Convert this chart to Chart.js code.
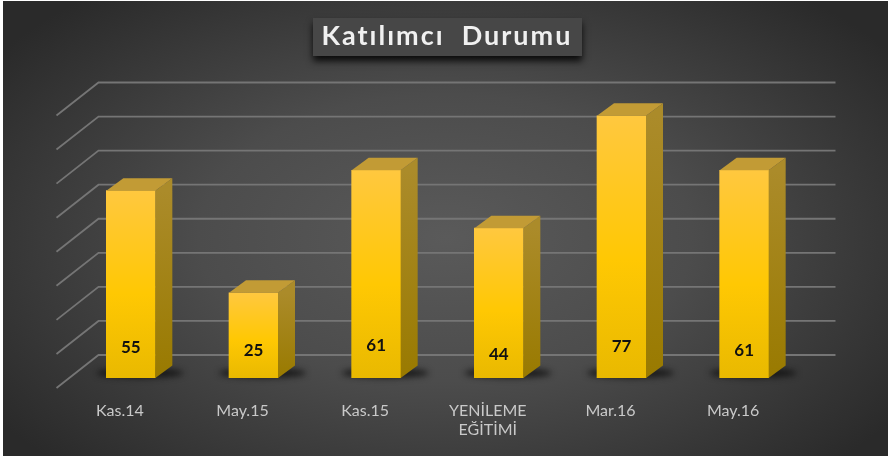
<!DOCTYPE html>
<html>
<head>
<meta charset="utf-8">
<style>
	html, body { margin: 0; background: #fff; overflow: hidden; }
	#bg {
		position: absolute; left: 3px; top: 1px; width: 885px; height: 455px;
		background: radial-gradient(ellipse 62% 70% at 50% 52%, #5a5a5a 0%, #4c4c4c 45%, #2a2a2a 100%);
	}
	#wrap { position: absolute; left: 0; top: 0; width: 890px; height: 456px; filter: blur(0.45px); }
</style>
<script src="https://cdn.jsdelivr.net/npm/chart.js@4"></script>
</head>
<body>
<div id="bg"></div>
<div id="wrap"><canvas id="chart" width="890" height="456"></canvas></div>
<script>
const chartTitle = 'Katılımcı  Durumu';
const categories = ['Kas.14', 'May.15', 'Kas.15', ['YENİLEME', 'EĞİTİMİ'], 'Mar.16', 'May.16'];
const values = [55, 25, 61, 44, 77, 61];
const axisMax = 80;
const axisStep = 10;

// the value labels do not sit at one height in the picture
const labelLift = [30, 27, 32, 23, 31, 27];

const depthX = 17;
const depthY = 12.5;

const frontFill = (c) => {
	const { chart, parsed } = c;
	if (!chart.chartArea || !parsed) return '#ffc800';
	const y = chart.scales.y;
	const top = y.getPixelForValue(parsed.y);
	const g = chart.ctx.createLinearGradient(0, top, 0, y.getPixelForValue(0));
	g.addColorStop(0, '#ffc83f');
	g.addColorStop(0.55, '#ffc803');
	g.addColorStop(1, '#e9b900');
	return g;
};

const poly = (ctx, pts, fill) => {
	ctx.beginPath();
	pts.forEach((p, i) => (i ? ctx.lineTo(p[0], p[1]) : ctx.moveTo(p[0], p[1])));
	ctx.closePath();
	ctx.fillStyle = fill;
	ctx.fill();
};

const box3d = {
	id: 'box3d',
	beforeDatasetsDraw(chart) {
		const { ctx, chartArea, scales } = chart;
		// walls: back line plus the slanted piece towards the viewer
		ctx.save();
		ctx.strokeStyle = '#757575';
		ctx.lineWidth = 1.8;
		scales.y.ticks.forEach((t) => {
			const py = scales.y.getPixelForValue(t.value);
			ctx.beginPath();
			ctx.moveTo(chartArea.left - 13, py + 10);
			ctx.lineTo(chartArea.left + 29, py - 23);
			ctx.lineTo(chartArea.right + 30, py - 23);
			ctx.stroke();
		});
		// floor shadows
		ctx.filter = 'blur(3px)';
		ctx.fillStyle = 'rgba(12,12,12,0.8)';
		chart.getDatasetMeta(0).data.forEach((b) => {
			ctx.beginPath();
			ctx.ellipse(b.x + 9, b.base - 5, b.width / 2 + 19, 5, 0, 0, Math.PI * 2);
			ctx.fill();
		});
		ctx.restore();
	},
	afterDatasetsDraw(chart) {
		const { ctx } = chart;
		ctx.save();
		chart.getDatasetMeta(0).data.forEach((b, i) => {
			const r = b.x + b.width / 2;
			const l = b.x - b.width / 2;
			const side = ctx.createLinearGradient(0, b.y, 0, b.base);
			side.addColorStop(0, '#ab8b2a');
			side.addColorStop(1, '#997a00');
			poly(ctx, [[r, b.y], [r + depthX, b.y - depthY], [r + depthX, b.base - depthY], [r, b.base]], side);
			poly(ctx, [[l, b.y], [l + depthX, b.y - depthY], [r + depthX, b.y - depthY], [r, b.y]], '#c29b35');
			ctx.fillStyle = '#111';
			ctx.font = 'bold 17px Lato';
			ctx.textAlign = 'center';
			ctx.textBaseline = 'middle';
			ctx.fillText(values[i], b.x, b.base - labelLift[i]);
		});
		ctx.restore();
	},
	afterDraw(chart) {
		const { ctx } = chart;
		ctx.save();
		ctx.shadowColor = 'rgba(0,0,0,0.85)';
		ctx.shadowBlur = 7;
		ctx.shadowOffsetY = 5;
		ctx.fillStyle = '#474747';
		ctx.fillRect(313, 18, 269, 38);
		ctx.restore();
		ctx.save();
		ctx.font = 'bold 27px Lato';
		ctx.letterSpacing = '2px';
		ctx.textAlign = 'center';
		ctx.textBaseline = 'middle';
		ctx.fillStyle = '#f0f0f0';
		ctx.fillText(chartTitle, 447, 36);
		ctx.restore();
	},
};

new Chart(document.getElementById('chart').getContext('2d'), {
	type: 'bar',
	data: {
		labels: categories,
		datasets: [{ data: values, backgroundColor: frontFill, barThickness: 49 }],
	},
	plugins: [box3d],
	options: {
		responsive: false,
		animation: false,
		layout: { padding: { left: 69.5, right: 84.5, top: 105.5, bottom: 0 } },
		plugins: { legend: { display: false }, tooltip: { enabled: false }, title: { display: false } },
		scales: {
			x: {
				grid: { display: false },
				border: { display: false },
				afterFit: (s) => { s.height = 78; },
				ticks: {
					color: '#c9c9c9',
					font: { family: 'Lato', size: 16 },
					padding: 15,
					labelOffset: -11,
					maxRotation: 0,
					autoSkip: false,
				},
			},
			y: {
				display: false,
				min: 0,
				max: axisMax,
				ticks: { stepSize: axisStep },
			},
		},
	},
});
</script>
</body>
</html>
